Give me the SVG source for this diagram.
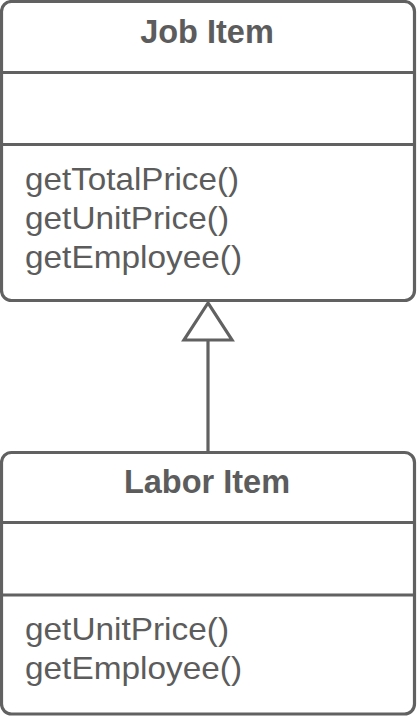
<svg xmlns="http://www.w3.org/2000/svg" width="417" height="717" viewBox="0 0 417 717">
  <style>
    .box { fill: #ffffff; stroke: #616161; stroke-width: 3.2; }
    .div { stroke: #616161; stroke-width: 3.2; fill: none; }
    .title { font-family: "Liberation Sans", Arial, sans-serif; font-weight: bold; font-size: 32.5px; fill: #5c5c5c; text-anchor: middle; }
    .method { font-family: "Liberation Sans", Arial, sans-serif; font-size: 32px; fill: #5c5c5c; }
    .conn { stroke: #616161; stroke-width: 3.2; fill: none; }
    .head { stroke: #616161; stroke-width: 3.2; fill: #ffffff; }
  </style>
  <rect width="417" height="717" fill="#ffffff"/>
  <g id="job-item">
    <rect class="box" x="1.5" y="1.5" width="413" height="299" rx="10" ry="10"/>
    <line class="div" x1="1.5" y1="72.5" x2="414.5" y2="72.5"/>
    <line class="div" x1="1.5" y1="144.5" x2="414.5" y2="144.5"/>
    <text class="title" x="207" y="43">Job Item</text>
    <text class="method" x="25" y="190" textLength="214" lengthAdjust="spacingAndGlyphs">getTotalPrice()</text>
    <text class="method" x="25" y="229" textLength="204" lengthAdjust="spacingAndGlyphs">getUnitPrice()</text>
    <text class="method" x="25" y="268" textLength="217" lengthAdjust="spacingAndGlyphs">getEmployee()</text>
  </g>
  <g id="labor-item">
    <rect class="box" x="1.5" y="452.5" width="413" height="261.5" rx="10" ry="10"/>
    <line class="div" x1="1.5" y1="522.5" x2="414.5" y2="522.5"/>
    <line class="div" x1="1.5" y1="595" x2="414.5" y2="595"/>
    <text class="title" x="207" y="493">Labor Item</text>
    <text class="method" x="25" y="640" textLength="204" lengthAdjust="spacingAndGlyphs">getUnitPrice()</text>
    <text class="method" x="25" y="679" textLength="217" lengthAdjust="spacingAndGlyphs">getEmployee()</text>
  </g>
  <g id="connectors">
    <line class="conn" x1="208" y1="452" x2="208" y2="340"/>
    <polygon class="head" points="208,303 184,340 232,340"/>
  </g>
</svg>
